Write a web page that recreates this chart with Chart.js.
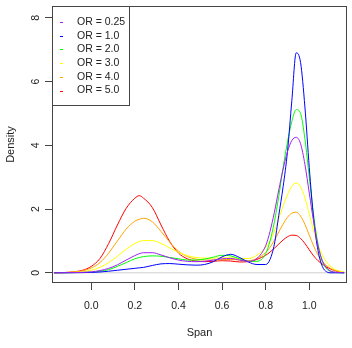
<!DOCTYPE html>
<html>
<head>
<meta charset="utf-8">
<script src="https://cdn.jsdelivr.net/npm/chart.js@4.4.0/dist/chart.umd.min.js"></script>
<style>
    html, body { margin: 0; padding: 0; background: #fff; }
    canvas { display: block; }
</style>
</head>
<body>
<canvas id="mychart" width="352" height="348"></canvas>
<script>
var spanX = [-0.17, -0.12, -0.08, -0.04, 0, 0.04, 0.08, 0.12, 0.16, 0.2, 0.22, 0.24, 0.28, 0.32, 0.36,
    0.4, 0.44, 0.48, 0.52, 0.56, 0.6, 0.64, 0.68, 0.72, 0.76, 0.8, 0.82, 0.84, 0.86, 0.88, 0.9,
    0.92, 0.94, 0.96, 0.98, 1.0, 1.02, 1.04, 1.06, 1.08, 1.1, 1.12, 1.16];

// density values, one array per odds ratio
var or025 = [0, 0.003, 0.008, 0.015, 0.03, 0.07, 0.14, 0.25, 0.4, 0.54, 0.6, 0.63, 0.63, 0.56, 0.47,
    0.4, 0.36, 0.35, 0.36, 0.4, 0.44, 0.45, 0.4, 0.36, 0.45, 0.85, 1.3, 1.9, 2.6, 3.25, 3.8,
    4.15, 4.25, 4.05, 3.4, 2.5, 1.6, 0.85, 0.38, 0.15, 0.05, 0.02, 0];
var or10 = [0, 0.001, 0.003, 0.006, 0.012, 0.025, 0.05, 0.08, 0.11, 0.14, 0.155, 0.17, 0.23, 0.28, 0.29,
    0.27, 0.25, 0.24, 0.26, 0.35, 0.5, 0.58, 0.48, 0.34, 0.26, 0.26, 0.42, 0.9, 1.8, 2.7, 3.8,
    5.4, 6.9, 6.6, 5.2, 3.3, 1.7, 0.7, 0.2, 0.03, 0, 0, 0];
var or20 = [0, 0.002, 0.005, 0.01, 0.02, 0.05, 0.1, 0.2, 0.32, 0.44, 0.48, 0.51, 0.53, 0.52, 0.48,
    0.44, 0.4, 0.4, 0.43, 0.49, 0.55, 0.53, 0.44, 0.36, 0.36, 0.6, 1.0, 1.6, 2.4, 3.3, 4.1,
    4.75, 5.12, 5.0, 4.2, 3.0, 1.8, 0.9, 0.35, 0.12, 0.04, 0.01, 0];
var or30 = [0, 0.005, 0.015, 0.03, 0.08, 0.17, 0.32, 0.52, 0.74, 0.92, 0.98, 1.01, 1.01, 0.92, 0.78,
    0.64, 0.54, 0.48, 0.46, 0.46, 0.47, 0.47, 0.45, 0.45, 0.55, 0.8, 1.0, 1.3, 1.7, 2.1, 2.45,
    2.72, 2.82, 2.7, 2.35, 1.85, 1.32, 0.88, 0.55, 0.33, 0.19, 0.1, 0.02];
var or40 = [0, 0.01, 0.03, 0.06, 0.15, 0.32, 0.62, 1.0, 1.37, 1.62, 1.68, 1.71, 1.6, 1.3, 0.96,
    0.68, 0.51, 0.43, 0.4, 0.4, 0.41, 0.42, 0.4, 0.38, 0.45, 0.64, 0.8, 1.02, 1.28, 1.53, 1.74,
    1.87, 1.9, 1.78, 1.52, 1.18, 0.84, 0.56, 0.36, 0.22, 0.13, 0.07, 0.01];
var or50 = [0, 0.01, 0.03, 0.08, 0.2, 0.45, 0.92, 1.5, 2.02, 2.34, 2.42, 2.34, 2.05, 1.5, 0.98,
    0.62, 0.44, 0.37, 0.35, 0.36, 0.38, 0.37, 0.34, 0.35, 0.42, 0.55, 0.65, 0.77, 0.9, 1.03, 1.13,
    1.18, 1.17, 1.08, 0.92, 0.72, 0.53, 0.38, 0.27, 0.18, 0.11, 0.06, 0.01];

var seriesNames = ['OR = 0.25', 'OR = 1.0', 'OR = 2.0', 'OR = 3.0', 'OR = 4.0', 'OR = 5.0'];
var seriesValues = [or025, or10, or20, or30, or40, or50];
var seriesColors = ['#A020F0', '#0000FF', '#00FF00', '#FFFF00', '#FFA500', '#FF0000'];

var xTicks = [0, 0.2, 0.4, 0.6, 0.8, 1.0];
var yTicks = [0, 2, 4, 6, 8];
var xMin = -0.18, xMax = 1.173;
var yMin = -0.32, yMax = 8.37;

var FONT = "'Liberation Sans', Arial, sans-serif";
var INK = '#222';

var datasets = seriesValues.map(function (vals, i) {
    return {
        label: seriesNames[i],
        data: vals.map(function (v, j) { return { x: spanX[j], y: v }; }),
        borderColor: seriesColors[i],
        borderWidth: 1,
        pointRadius: 0,
        fill: false,
        cubicInterpolationMode: 'monotone',
        order: 0
    };
});
// grey zero line of plot.density
datasets.push({
    label: 'zero',
    data: [{ x: xMin, y: 0 }, { x: xMax, y: 0 }],
    borderColor: '#cfcfcf',
    borderWidth: 1,
    pointRadius: 0,
    order: 10
});

// box, rotated y tick labels and the legend, R style
var rFrame = {
    id: 'rFrame',
    afterDraw: function (chart) {
        var ctx = chart.ctx;
        var a = chart.chartArea;
        var ys = chart.scales.y;
        ctx.save();
        ctx.strokeStyle = '#444';
        ctx.lineWidth = 1;
        ctx.strokeRect(Math.round(a.left) + 0.5, Math.round(a.top) + 0.5,
            Math.round(a.right - a.left) - 1, Math.round(a.bottom - a.top) - 1);

        // y tick labels, parallel to the axis
        ctx.fillStyle = INK;
        ctx.font = '10.5px ' + FONT;
        ctx.textAlign = 'center';
        ctx.textBaseline = 'middle';
        yTicks.forEach(function (v) {
            var py = ys.getPixelForValue(v);
            ctx.save();
            ctx.translate(36, py);
            ctx.rotate(-Math.PI / 2);
            ctx.fillText(String(v), 0, 0);
            ctx.restore();
        });

        // legend box in the top left corner
        var lx = Math.round(a.left), ly = Math.round(a.top);
        ctx.fillStyle = '#fff';
        ctx.fillRect(lx + 0.5, ly + 0.5, 77, 99);
        ctx.strokeStyle = '#444';
        ctx.strokeRect(lx + 0.5, ly + 0.5, 77, 99);
        ctx.textAlign = 'left';
        seriesNames.forEach(function (name, i) {
            var ry = ly + 16 + i * 13.7;
            ctx.fillStyle = seriesColors[i];
            ctx.fillRect(lx + 8, Math.round(ry), 3, 1);
            ctx.fillStyle = INK;
            ctx.fillText(name, lx + 25, ry);
        });
        ctx.restore();
    }
};

var ctx = document.getElementById('mychart').getContext('2d');
var mychart = new Chart(ctx, {
    type: 'line',
    data: { datasets: datasets },
    options: {
        responsive: false,
        animation: false,
        layout: { padding: { top: 6, right: 5, left: 0, bottom: 0 } },
        plugins: {
            legend: { display: false },
            tooltip: { enabled: false }
        },
        scales: {
            x: {
                type: 'linear',
                min: xMin,
                max: xMax,
                afterBuildTicks: function (scale) {
                    scale.ticks = xTicks.map(function (v) { return { value: v }; });
                },
                afterFit: function (scale) { scale.height = 65; },
                grid: { drawOnChartArea: false, tickLength: 7, tickColor: '#444' },
                border: { display: false },
                ticks: {
                    padding: 10,
                    color: INK,
                    font: { family: FONT, size: 10.5 },
                    maxRotation: 0,
                    callback: function (v) { return v.toFixed(1); }
                },
                title: {
                    display: true,
                    text: 'Span',
                    color: INK,
                    font: { family: FONT, size: 11 },
                    padding: { top: 0, bottom: 8 }
                }
            },
            y: {
                type: 'linear',
                min: yMin,
                max: yMax,
                afterBuildTicks: function (scale) {
                    scale.ticks = yTicks.map(function (v) { return { value: v }; });
                },
                afterFit: function (scale) { scale.width = 52; },
                grid: { drawOnChartArea: false, tickLength: 7, tickColor: '#444' },
                border: { display: false },
                ticks: { display: false },
                title: {
                    display: true,
                    text: 'Density',
                    color: INK,
                    font: { family: FONT, size: 11 },
                    padding: { top: 4, bottom: 0 }
                }
            }
        }
    },
    plugins: [rFrame]
});
</script>
</body>
</html>
